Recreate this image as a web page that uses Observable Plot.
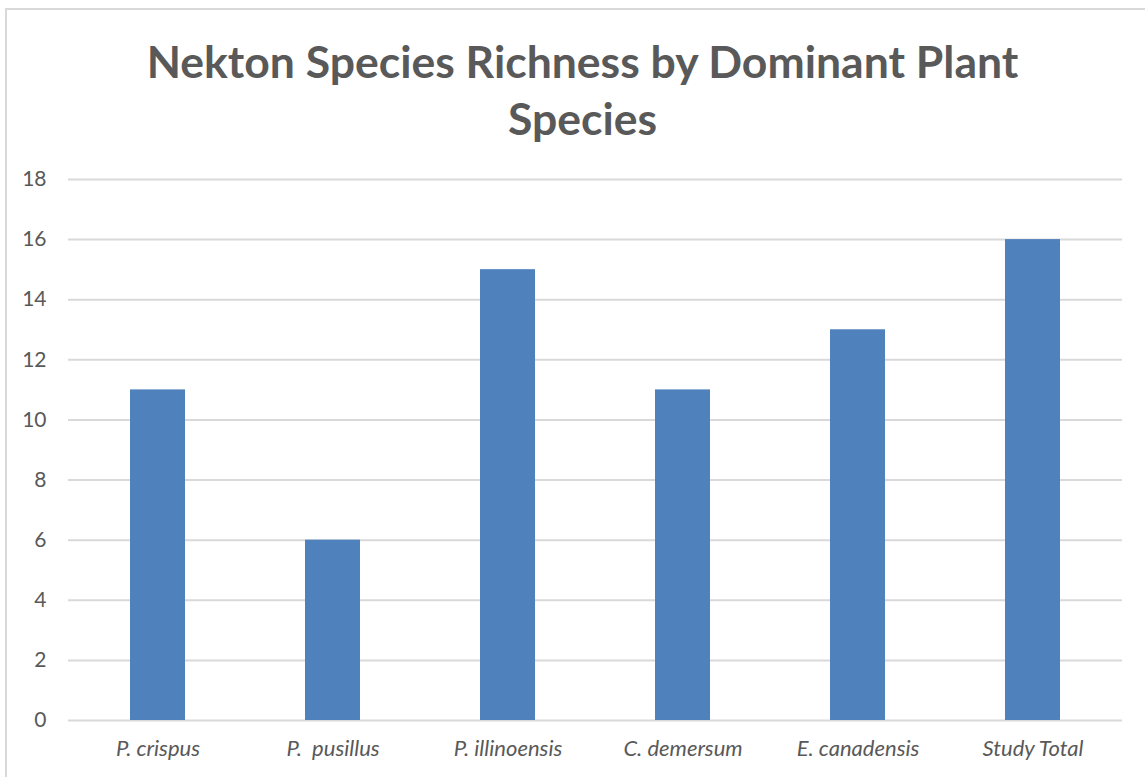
<!DOCTYPE html>
<html>
<head>
<meta charset="utf-8">
<script src="https://cdn.jsdelivr.net/npm/d3@7"></script>
<script src="https://cdn.jsdelivr.net/npm/@observablehq/plot@0.6"></script>
<style>
  html, body { margin: 0; padding: 0; background: #fff; }
  #frame { position: absolute; left: 5px; top: 8px; width: 1150px; height: 780px; border-left: 2px solid #D9D9D9; border-top: 2px solid #D9D9D9; box-sizing: border-box; }
  #title { position: absolute; left: 0; top: 32px; width: 1165px; text-align: center; font-family: Lato, "Open Sans", sans-serif; font-weight: bold; font-size: 44.5px; line-height: 57px; color: #595959; }
  #chart { position: absolute; left: 0; top: 150px; }
  #chart svg g[aria-label="y-axis tick label"] text { font-size: 21px; }
  #chart svg g[aria-label="x-axis tick label"] text { font-size: 22px; }
</style>
</head>
<body>
<div id="frame"></div>
<div id="title">Nekton Species Richness by Dominant Plant<br>Species</div>
<div id="chart"></div>
<script>
const categories = ["P. crispus", "P.  pusillus", "P. illinoensis", "C. demersum", "E. canadensis", "Study Total"];
const richness = [11, 6, 15, 11, 13, 16];
const yTicks = [0, 2, 4, 6, 8, 10, 12, 14, 16, 18];

const data = categories.map((c, i) => ({category: c, value: richness[i]}));

const plot = Plot.plot({
  width: 1145,
  height: 627,
  marginTop: 29,
  marginBottom: 57,
  marginLeft: 68,
  marginRight: 23,
  style: {fontFamily: "Lato, 'Open Sans', sans-serif", fontSize: "21px", color: "#595959", background: "transparent"},
  x: {domain: categories, paddingInner: 0.687, paddingOuter: 0.3435, label: null},
  y: {domain: [0, 18], ticks: yTicks, label: null},
  marks: [
    Plot.gridY(yTicks, {stroke: "#D9D9D9", strokeOpacity: 1, strokeWidth: 2}),
    Plot.barY(data, {x: "category", y: "value", fill: "#4F81BD"}),
    Plot.axisY(yTicks, {tickSize: 0, tickPadding: 22, fill: "#595959", label: null}),
    Plot.axisX({tickSize: 0, tickPadding: 20, fontStyle: "italic", fill: "#595959", label: null})
  ]
});
plot.querySelectorAll("text").forEach(t => t.setAttribute("xml:space", "preserve"));
plot.querySelectorAll("text, tspan").forEach(t => t.style.whiteSpace = "pre");
document.getElementById("chart").appendChild(plot);
</script>
</body>
</html>
